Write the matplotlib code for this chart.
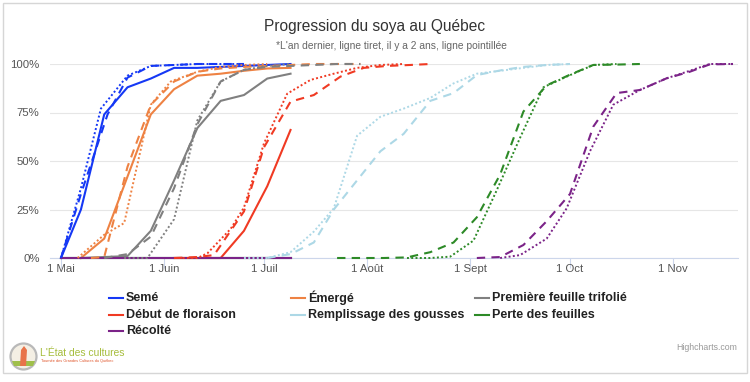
import matplotlib
matplotlib.use("Agg")
import matplotlib.pyplot as plt
import pandas as pd
from matplotlib.lines import Line2D
from matplotlib.patches import Rectangle, Ellipse, Polygon

# ---------------- data (days after 1 May, % of fields) ----------------
START = "2021-05-01"

PHASES = ["Semé", "Émergé", "Première feuille trifolié", "Début de floraison",
          "Remplissage des gousses", "Perte des feuilles", "Récolté"]

# current year (solid)
SEME_CUR_D = [0, 6, 13, 20, 27, 34, 41, 48, 55, 62, 69]
SEME_CUR_V = [0, 25, 74, 88, 92.5, 98, 98, 98.5, 99, 99.5, 100]
EMERGE_CUR_D = [6, 13, 20, 27, 34, 41, 48, 55, 62, 69]
EMERGE_CUR_V = [0, 10, 42, 74, 87, 94, 95, 96.5, 97.7, 98]
TRIF_CUR_D = [6, 13, 20, 27, 34, 41, 48, 55, 62, 69]
TRIF_CUR_V = [0, 0.5, 1, 14, 40, 67, 81, 84, 92.5, 95]
FLOR_CUR_D = [34, 41, 48, 55, 62, 69]
FLOR_CUR_V = [0, 0, 0, 14, 37, 66]
GOUS_CUR_D = [0, 6, 13, 20, 27, 34, 41, 48, 55, 62, 69]
GOUS_CUR_V = [0, 0, 0, 0, 0, 0, 0, 0, 0, 0, 0]
PERTE_CUR_D = [0, 6, 13, 20, 27, 34, 41, 48, 55, 62, 69]
PERTE_CUR_V = [0, 0, 0, 0, 0, 0, 0, 0, 0, 0, 0]
RECO_CUR_D = [0, 6, 13, 20, 27, 34, 41, 48, 55, 62, 69]
RECO_CUR_V = [0, 0, 0, 0, 0, 0, 0, 0, 0, 0, 0]

# last year (dashed)
SEME_LY_D = [0, 6, 14, 20, 27, 34, 41, 48, 55]
SEME_LY_V = [0, 33, 74, 93, 99, 99.5, 100, 100, 100]
EMERGE_LY_D = [9, 13, 20, 27, 34, 41, 48, 55, 62, 69, 76, 83, 90]
EMERGE_LY_V = [0, 0.5, 47, 79, 91, 96, 97.7, 98.5, 99, 99.5, 100, 100, 100]
TRIF_LY_D = [13, 20, 27, 34, 41, 48, 55, 62, 69, 76, 83, 90]
TRIF_LY_V = [0, 2, 11, 36, 69, 91, 97, 98.5, 99, 99.5, 100, 100]
FLOR_LY_D = [34, 41, 46, 55, 61, 69, 76, 84, 91, 98, 105, 111]
FLOR_LY_V = [0, 0.5, 1.5, 24, 57, 80.6, 84, 93.5, 98, 99, 99.5, 100]
GOUS_LY_D = [62, 69, 76, 82, 89, 96, 103, 111, 118, 125, 133, 139, 146, 153]
GOUS_LY_V = [0, 2, 8, 25, 40, 55, 64, 81, 85, 94.3, 97, 98.5, 99.5, 100]
PERTE_LY_D = [83, 90, 97, 104, 111, 118, 125, 132, 139, 146, 153, 160, 167, 174]
PERTE_LY_V = [0, 0, 0, 0.3, 3, 8, 21, 43, 75.5, 89, 94.5, 99.5, 99.7, 100]
RECO_LY_D = [125, 132, 139, 146, 153, 160, 167, 174, 182, 189, 195, 202]
RECO_LY_V = [0, 0.5, 6.7, 19, 33, 67.7, 85, 86.6, 92.6, 96, 99.8, 100]

# two years ago (dotted)
SEME_2Y_D = [0, 6, 12, 20, 27, 34, 41, 48, 55]
SEME_2Y_V = [0, 36, 77, 94, 99, 99.5, 100, 100, 100]
EMERGE_2Y_D = [5, 13, 19, 27, 33, 41, 48, 55, 62]
EMERGE_2Y_V = [0, 12, 18, 79, 91, 96, 98.5, 99.5, 100]
TRIF_2Y_D = [19, 26, 34, 41, 48, 55, 62, 69]
TRIF_2Y_V = [0, 0, 20, 71, 91, 97, 99, 100]
FLOR_2Y_D = [34, 41, 44, 51, 55, 61, 68, 75, 82, 89, 96, 103]
FLOR_2Y_V = [0, 0, 2.4, 15, 26, 59, 84.7, 91.8, 95, 98, 99.5, 100]
GOUS_2Y_D = [55, 62, 69, 76, 82, 89, 96, 103, 111, 118, 125, 132, 139, 146, 153]
GOUS_2Y_V = [0, 0, 3, 13.6, 25.6, 63, 72.8, 77, 82.5, 90, 95, 96.5, 98, 99.5, 100]
PERTE_2Y_D = [104, 111, 117, 124, 131, 138, 145, 152, 160, 167]
PERTE_2Y_V = [0, 0, 0.7, 9, 35, 62, 88, 93.5, 99.5, 100]
RECO_2Y_D = [132, 138, 146, 152, 159, 166, 174, 182, 189, 195, 202]
RECO_2Y_V = [0, 1.5, 10, 25.6, 55, 79, 86.6, 92.6, 96.5, 100, 100]

MONTH_TICKS = ["2021-05-01", "2021-06-01", "2021-07-01", "2021-08-01",
               "2021-09-01", "2021-10-01", "2021-11-01"]
MONTH_LABELS = ["1 Mai", "1 Juin", "1 Juil", "1 Août", "1 Sept", "1 Oct", "1 Nov"]
Y_TICKS = [0, 25, 50, 75, 100]
Y_LABELS = ["0%", "25%", "50%", "75%", "100%"]

COLORS = ["#1538f5", "#ee8243", "#808080", "#f03a23", "#add8e6", "#2d8a27", "#7b2388"]

CUR = [(SEME_CUR_D, SEME_CUR_V), (EMERGE_CUR_D, EMERGE_CUR_V), (TRIF_CUR_D, TRIF_CUR_V),
       (FLOR_CUR_D, FLOR_CUR_V), (GOUS_CUR_D, GOUS_CUR_V), (PERTE_CUR_D, PERTE_CUR_V),
       (RECO_CUR_D, RECO_CUR_V)]
LY = [(SEME_LY_D, SEME_LY_V), (EMERGE_LY_D, EMERGE_LY_V), (TRIF_LY_D, TRIF_LY_V),
      (FLOR_LY_D, FLOR_LY_V), (GOUS_LY_D, GOUS_LY_V), (PERTE_LY_D, PERTE_LY_V),
      (RECO_LY_D, RECO_LY_V)]
Y2 = [(SEME_2Y_D, SEME_2Y_V), (EMERGE_2Y_D, EMERGE_2Y_V), (TRIF_2Y_D, TRIF_2Y_V),
      (FLOR_2Y_D, FLOR_2Y_V), (GOUS_2Y_D, GOUS_2Y_V), (PERTE_2Y_D, PERTE_2Y_V),
      (RECO_2Y_D, RECO_2Y_V)]

# ---------------- figure ----------------
plt.rcParams['font.family'] = ['Liberation Sans', 'DejaVu Sans']
W, H = 750, 382
fig = plt.figure(figsize=(W / 100, H / 100), dpi=100)
fig.patch.set_facecolor("white")


def fx(x):
    return x / W


def fy(y):
    return 1 - y / H


# outer border
fig.patches.append(Rectangle((fx(3), fy(373)), fx(744), 370 / H, transform=fig.transFigure,
                             fill=False, edgecolor="#d6d6d6", linewidth=1.0))

L, R, T, B = 50, 738, 64, 258
ax = fig.add_axes([fx(L), fy(B), (R - L) / W, (B - T) / H])
start = pd.Timestamp(START)


def to_dates(days):
    return start + pd.to_timedelta(days, unit="D")


LW = 1.5
for (d, v), c in zip(CUR, COLORS):
    ax.plot(to_dates(d), v, color=c, lw=LW, solid_joinstyle="round", clip_on=False, zorder=3)
for (d, v), c in zip(LY, COLORS):
    ax.plot(to_dates(d), v, color=c, lw=LW, linestyle=(0, (4, 3)), clip_on=False, zorder=4)
for (d, v), c in zip(Y2, COLORS):
    ax.plot(to_dates(d), v, color=c, lw=1.4, linestyle=(0, (1, 1.2)), clip_on=False, zorder=5)

ax.set_xlim(start - pd.Timedelta(days=3.3), start + pd.Timedelta(days=203.5))
ax.set_ylim(0, 100)
ax.set_xticks(pd.to_datetime(MONTH_TICKS))
ax.set_xticklabels(MONTH_LABELS)
ax.set_yticks(Y_TICKS)
ax.set_yticklabels(Y_LABELS)
ax.tick_params(axis="x", length=7.2, width=0.8, color="#ccd6eb", labelsize=8.2,
               labelcolor="#555555", pad=-3.2)
ax.tick_params(axis="y", length=0, labelsize=8.2, labelcolor="#555555", pad=7.5)
ax.grid(axis="y", color="#e6e6e6", linewidth=0.8)
ax.set_axisbelow(True)
for s in ["top", "right", "left"]:
    ax.spines[s].set_visible(False)
ax.spines["bottom"].set_color("#ccd6eb")
ax.spines["bottom"].set_linewidth(0.8)
ax.spines["bottom"].set_zorder(2)
ax.patch.set_alpha(0)

# titles
fig.text(fx(375), fy(27), "Progression du soya au Québec", ha="center", va="center",
         fontsize=11.2, color="#333333")
fig.text(fx(391), fy(46), "*L'an dernier, ligne tiret, il y a 2 ans, ligne pointillée",
         ha="center", va="center", fontsize=7.4, color="#666666")

# legend (row-wise, 3 columns)
col_x = [109, 291, 475]
row_y = [298, 315, 331]
for i, (name, c) in enumerate(zip(PHASES, COLORS)):
    r, k = divmod(i, 3)
    x0, y0 = col_x[k], row_y[r]
    fig.add_artist(Line2D([fx(x0), fx(x0 + 13.5)], [fy(y0), fy(y0)], transform=fig.transFigure,
                          color=c, lw=1.5))
    fig.text(fx(x0 + 17), fy(y0), name, ha="left", va="center", fontsize=9,
             fontweight="bold", color="#222222")

# credits
fig.text(fx(737), fy(348), "Highcharts.com", ha="right", va="center", fontsize=6.3,
         color="#999999")

# logo
fig.patches.append(Ellipse((fx(23.5), fy(356.5)), 26 / W, 26 / H, transform=fig.transFigure,
                           facecolor="#f4efe4", edgecolor="#b9b9b9", linewidth=1.6))
fig.patches.append(Polygon([(fx(12), fy(361)), (fx(35), fy(361)), (fx(33), fy(366)),
                            (fx(14), fy(366))], closed=True, transform=fig.transFigure,
                           facecolor="#9fbf4a", edgecolor="none"))
fig.patches.append(Polygon([(fx(20), fy(366)), (fx(21), fy(350)), (fx(24), fy(346)),
                            (fx(27), fy(350)), (fx(26), fy(366))], closed=True,
                           transform=fig.transFigure, facecolor="#e8734a", edgecolor="none"))
fig.text(fx(40), fy(353), "L'État des cultures", ha="left", va="center", fontsize=7.4,
         color="#a6bd3c")
fig.text(fx(41), fy(361), "Tournée des Grandes Cultures du Québec", ha="left", va="center",
         fontsize=2.8, color="#e0552a")

fig.savefig("out.png", dpi=100, facecolor="white")
